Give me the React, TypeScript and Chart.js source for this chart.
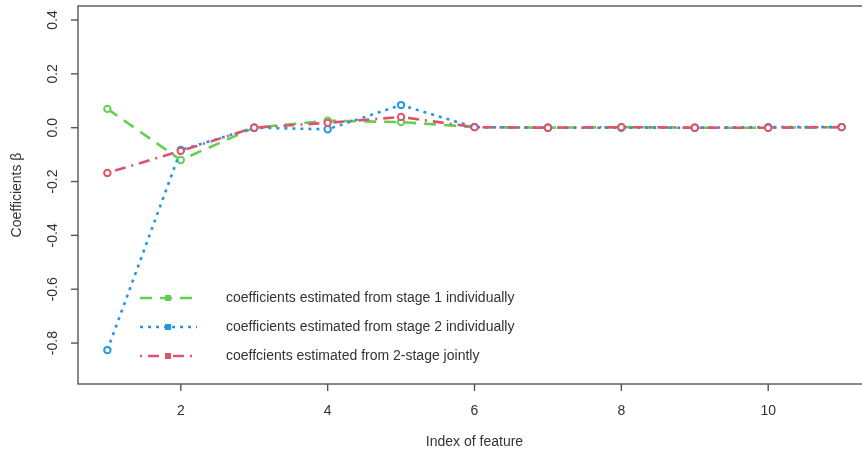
import React, { useEffect, useRef } from "react";
import { Chart, registerables } from "chart.js";

Chart.register(...registerables);

const features = [1, 2, 3, 4, 5, 6, 7, 8, 9, 10, 11];
const stage1 = [0.07, -0.12, 0.0, 0.026, 0.021, 0.002, 0.0, 0.002, 0.0, 0.0, 0.002];
const stage2 = [-0.826, -0.083, 0.0, -0.006, 0.084, 0.002, 0.0, 0.0, 0.0, 0.002, 0.002];
const joint = [-0.168, -0.086, 0.0, 0.018, 0.04, 0.002, 0.0, 0.002, 0.0, 0.0, 0.002];
const yTicks = [-0.8, -0.6, -0.4, -0.2, 0.0, 0.2, 0.4];
const xTicks = [2, 4, 6, 8, 10];
const legendLabels = [
  "coefficients estimated from stage 1 individually",
  "coefficients estimated from stage 2 individually",
  "coeffcients estimated from 2-stage jointly",
];
const xTitle = "Index of feature";
const yTitle = "Coefficients \u03b2";

const GREEN = "#61D04F";
const BLUE = "#2297E6";
const RED = "#DF536B";
const dashes = [[12, 8], [3, 5], [2, 6, 11, 6]];
const colors = [GREEN, BLUE, RED];
const FONT = "14px 'Liberation Sans', Arial, sans-serif";
const TEXT = "#333";

const axesPlugin = {
  id: "rAxes",
  afterDraw(chart: any) {
    const ctx = chart.ctx;
    const { left, top, right, bottom } = chart.chartArea;
    const xs = chart.scales.x;
    const ys = chart.scales.y;
    ctx.save();
    ctx.strokeStyle = "#555";
    ctx.lineWidth = 1.4;
    ctx.setLineDash([]);
    ctx.strokeRect(left, top, right - left + 20, bottom - top);
    ctx.fillStyle = TEXT;
    ctx.font = FONT;
    ctx.textAlign = "center";
    ctx.textBaseline = "middle";
    // y ticks
    yTicks.forEach((v) => {
      const py = ys.getPixelForValue(v);
      ctx.beginPath();
      ctx.moveTo(left - 7, py);
      ctx.lineTo(left, py);
      ctx.stroke();
      ctx.save();
      ctx.translate(53, py);
      ctx.rotate(-Math.PI / 2);
      ctx.fillText(v.toFixed(1).replace("-0.0", "0.0"), 0, 0);
      ctx.restore();
    });
    // x ticks
    xTicks.forEach((v) => {
      const px = xs.getPixelForValue(v);
      ctx.beginPath();
      ctx.moveTo(px, bottom);
      ctx.lineTo(px, bottom + 7);
      ctx.stroke();
      ctx.fillText(String(v), px, 411);
    });
    ctx.fillText(xTitle, (left + right) / 2, 442);
    ctx.save();
    ctx.translate(17, (top + bottom) / 2);
    ctx.rotate(-Math.PI / 2);
    ctx.fillText(yTitle, 0, 0);
    ctx.restore();
    // legend
    const rows = [298, 327, 356];
    rows.forEach((ry, i) => {
      ctx.strokeStyle = colors[i];
      ctx.lineWidth = 2.6;
      ctx.setLineDash(dashes[i]);
      ctx.beginPath();
      ctx.moveTo(140, ry);
      ctx.lineTo(197, ry);
      ctx.stroke();
      ctx.setLineDash([]);
      ctx.fillStyle = colors[i];
      ctx.fillRect(165, ry - 3, 6, 6);
      ctx.fillStyle = TEXT;
      ctx.textAlign = "left";
      ctx.fillText(legendLabels[i], 226, ry);
    });
    ctx.restore();
  },
};

export default function App() {
  const ref = useRef<HTMLCanvasElement>(null);
  useEffect(() => {
    if (!ref.current) return;
    const series = [stage1, stage2, joint];
    const datasets = series.map((s, i) => ({
      data: features.map((f, j) => ({ x: f, y: s[j] })),
      borderColor: colors[i],
      borderWidth: 2.6,
      borderDash: dashes[i],
      pointRadius: 3.2,
      pointBorderWidth: 2,
      pointBorderColor: colors[i],
      pointBackgroundColor: "#fff",
      tension: 0,
      fill: false,
      order: 3 - i,
    }));
    const chart = new Chart(ref.current, {
      type: "line",
      data: { datasets },
      options: {
        animation: false,
        responsive: false,
        devicePixelRatio: 1,
        layout: { padding: { left: 78, top: 4, right: 9, bottom: 69 } },
        plugins: { legend: { display: false }, tooltip: { enabled: false } },
        scales: {
          x: { type: "linear", min: 0.6, max: 11.4, display: false },
          y: { type: "linear", min: -0.952, max: 0.452, display: false },
        },
      },
      plugins: [axesPlugin],
    });
    return () => chart.destroy();
  }, []);
  return (
    <div style={{ position: "absolute", left: 0, top: 0, width: 862, height: 453, overflow: "hidden", background: "#fff" }}>
      <canvas ref={ref} width={880} height={453} style={{ width: 880, height: 453 }} />
    </div>
  );
}
